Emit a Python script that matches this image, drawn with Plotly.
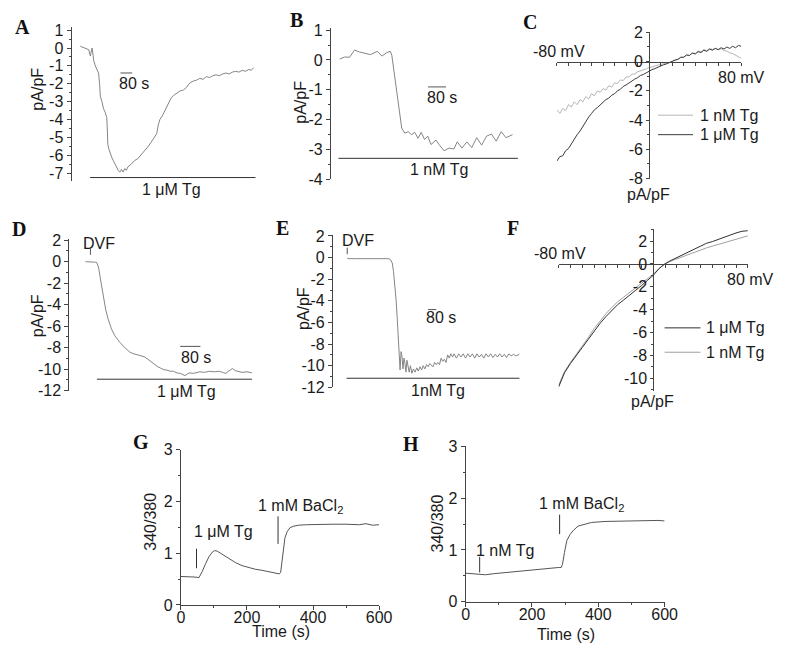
import plotly.graph_objects as go

W, H = 799, 662

# ---------------- data ----------------
# Panel A : 1 uM Tg, time (s) vs current density (pA/pF)
a_t = [0, 13, 36, 47, 58, 64, 69, 76, 80, 87, 91, 102, 113, 124, 131, 136, 147, 158, 169, 180, 184, 187,
       196, 202, 213, 224, 236, 247, 258, 269, 280, 291, 302, 313, 324, 347, 369, 391, 413, 436, 458, 480,
       502, 520, 531, 542, 558, 569, 591, 602, 618, 636, 658, 680, 702, 724, 736, 747, 769, 791, 813, 836,
       858, 880, 902, 924, 947, 969, 991, 1013, 1036, 1058, 1080, 1102, 1124, 1147, 1164, 1180]
a_i = [0.1, 0.05, 0.0, -0.05, -0.1, -0.35, -0.45, -0.1, 0.0, -0.4, -0.7, -1.0, -1.2, -1.4, -2.0, -2.7, -3.0,
       -3.4, -3.6, -3.9, -4.6, -5.4, -5.7, -5.9, -6.1, -6.3, -6.5, -6.7, -6.85, -6.95, -6.8, -6.95, -6.75,
       -6.85, -6.65, -6.5, -6.3, -6.2, -6.0, -5.75, -5.55, -5.3, -5.0, -4.8, -4.3, -4.0, -3.8, -3.6, -3.3,
       -3.0, -2.8, -2.65, -2.5, -2.4, -2.35, -2.2, -2.05, -1.95, -1.85, -1.8, -1.7, -1.75, -1.6, -1.65, -1.55,
       -1.5, -1.55, -1.45, -1.4, -1.45, -1.35, -1.3, -1.35, -1.25, -1.3, -1.2, -1.25, -1.1]

# Panel B : 1 nM Tg
b_t = [0, 22, 44, 66, 87, 109, 138, 168, 189, 211, 226, 233, 248, 262, 277, 291, 306, 321, 335, 350, 364,
       379, 393, 408, 430, 444, 466, 488, 510, 525, 546, 568, 590, 612, 634, 656, 678, 699, 721, 743, 772]
b_i = [0.03, 0.1, 0.09, 0.33, 0.27, 0.22, 0.18, 0.29, 0.13, 0.25, 0.29, 0.15, -0.65, -1.52, -2.28, -2.45,
       -2.4, -2.5, -2.42, -2.62, -2.42, -2.66, -2.55, -2.83, -2.68, -2.83, -3.04, -2.95, -2.98, -2.74, -2.95,
       -2.74, -2.93, -2.6, -2.85, -2.55, -2.48, -2.72, -2.4, -2.6, -2.5]

# Panel C : I-V curves (mV vs pA/pF)
c_mv = [-80, -77.5, -75, -72.5, -70, -67.5, -65, -62.5, -60, -57.5, -55, -52.5, -50, -47.5, -45, -42.5,
        -40, -37.5, -35, -32.5, -30, -27.5, -25, -22.5, -20, -17.5, -15, -12.5, -10, -7.5, -5, -2.5, 0,
        2.5, 5, 7.5, 10, 12.5, 15, 17.5, 20, 22.5, 25, 27.5, 30, 32.5, 35, 37.5, 40, 42.5, 45, 47.5, 50,
        52.5, 55, 57.5, 60, 62.5, 65, 67.5, 70, 72.5, 75, 77.5, 80]
c_nm = [-3.3, -3.55, -3.2, -3.35, -2.95, -3.1, -2.75, -2.95, -2.6, -2.75, -2.4, -2.55, -2.2, -2.35, -2.0,
        -2.1, -1.85, -1.95, -1.65, -1.75, -1.45, -1.5, -1.25, -1.3, -1.05, -1.05, -0.85, -0.85, -0.7, -0.65,
        -0.55, -0.5, -0.4, -0.38, -0.3, -0.25, -0.2, -0.12, -0.1, 0.0, 0.0, 0.12, 0.15, 0.28, 0.3, 0.45,
        0.42, 0.6, 0.55, 0.72, 0.65, 0.82, 0.75, 0.9, 0.82, 0.92, 0.8, 0.88, 0.75, 0.72, 0.6, 0.55, 0.42,
        0.35, 0.22]
c_um = [-6.8, -6.5, -6.45, -6.1, -5.95, -5.6, -5.35, -5.0, -4.75, -4.4, -4.15, -3.8, -3.55, -3.3, -3.15,
        -2.95, -2.8, -2.6, -2.5, -2.3, -2.2, -2.0, -1.9, -1.7, -1.6, -1.45, -1.35, -1.2, -1.1, -0.95, -0.88,
        -0.75, -0.68, -0.55, -0.48, -0.38, -0.32, -0.22, -0.16, -0.06, 0.0, 0.1, 0.15, 0.3, 0.3, 0.45, 0.42,
        0.58, 0.52, 0.68, 0.62, 0.78, 0.7, 0.85, 0.78, 0.9, 0.82, 0.95, 0.86, 1.0, 0.9, 1.05, 0.95, 1.1, 1.05]

# Panel D : DVF, 1 uM Tg
d_t = [0, 13, 26, 39, 45, 52, 58, 64, 71, 80, 90, 103, 116, 135, 155, 174, 187, 200, 219, 232, 245, 258,
       270, 283, 296, 309, 322, 335, 348, 361, 374, 386, 393, 402, 412, 425, 438, 451, 470, 489, 509, 528,
       541, 554, 564, 573, 580, 592, 605, 618, 638, 657]
d_i = [0, 0.0, 0.0, -0.05, -0.1, -0.6, -1.5, -2.4, -3.3, -4.5, -5.4, -6.3, -6.9, -7.5, -8.0, -8.4, -8.55,
       -8.65, -8.75, -8.85, -9.05, -9.3, -9.5, -9.75, -9.9, -10.05, -10.1, -10.2, -10.2, -10.35, -10.4,
       -10.5, -10.6, -10.45, -10.35, -10.4, -10.3, -10.25, -10.3, -10.2, -10.25, -10.2, -10.3, -10.4, -10.2,
       -10.05, -9.95, -10.15, -10.2, -10.3, -10.25, -10.35]

# Panel E : DVF, 1 nM Tg
e_t = [0, 27, 93, 193, 293, 393, 426, 443, 460, 473, 486, 500, 510, 520, 526, 533, 540, 550, 560, 570, 580,
       590, 600, 610, 620, 633, 646, 660, 676, 693, 710, 726, 743, 760, 776, 793, 810, 826, 843, 859, 876,
       893, 909, 926, 943, 959, 976, 992, 1009, 1026, 1042, 1059, 1076, 1092, 1115, 1139, 1162, 1185, 1209,
       1232, 1255, 1279, 1302, 1325, 1349, 1372, 1395, 1419, 1442, 1465, 1489, 1512, 1535, 1558, 1582, 1605,
       1628, 1652, 1675, 1698, 1725, 1758]
e_i = [-0.06, -0.1, -0.1, -0.12, -0.12, -0.12, -0.1, -0.2, -0.5, -1.3, -2.5, -4.0, -5.5, -7.0, -7.9, -9.0,
       -10.4, -8.7, -9.2, -10.3, -9.3, -9.8, -10.6, -9.5, -10.2, -10.6, -10.0, -10.7, -10.3, -10.6, -10.2,
       -10.5, -10.1, -10.4, -10.0, -10.3, -9.9, -10.1, -9.8, -10.0, -10.1, -9.7, -9.9, -9.7, -9.9, -9.3,
       -9.6, -9.4, -9.7, -9.0, -9.3, -8.9, -9.2, -8.9, -9.3, -8.9, -9.2, -8.9, -9.3, -8.9, -9.2, -8.9, -9.3,
       -8.9, -9.2, -8.95, -9.3, -8.9, -9.2, -8.9, -9.25, -8.95, -9.2, -8.9, -9.2, -8.95, -9.25, -8.9, -9.1,
       -8.95, -9.1, -8.95]

# Panel F : I-V curves with DVF
f_mv = [-80, -75, -70, -65, -60, -55, -50, -45, -40, -35, -30, -25, -20, -15, -10, -5, 0, 5, 10, 15, 20,
        25, 30, 35, 40, 45, 50, 55, 60, 65, 70, 75, 80]
f_um = [-10.75, -9.5, -8.7, -7.95, -7.3, -6.6, -5.85, -5.2, -4.6, -4.05, -3.55, -3.15, -2.75, -2.3, -1.9,
        -1.45, -1.0, -0.4, 0.02, 0.3, 0.55, 0.8, 1.1, 1.35, 1.6, 1.8, 1.95, 2.15, 2.35, 2.55, 2.7, 2.85, 2.9]
f_nm = [-10.6, -9.4, -8.6, -7.9, -7.2, -6.45, -5.65, -4.95, -4.35, -3.8, -3.3, -2.9, -2.5, -2.1, -1.7,
        -1.3, -0.9, -0.4, 0.0, 0.25, 0.45, 0.65, 0.85, 1.05, 1.25, 1.4, 1.55, 1.7, 1.85, 2.0, 2.15, 2.3, 2.45]

# Panel G : fura-2 ratio, 1 uM Tg then BaCl2
g_t = [0, 20, 40, 55, 57, 65, 75, 85, 95, 102, 110, 125, 145, 165, 185, 205, 225, 245, 265, 285, 298, 302,
       306, 310, 315, 322, 330, 340, 355, 380, 420, 460, 500, 540, 560, 580, 600]
g_r = [0.55, 0.55, 0.54, 0.53, 0.55, 0.65, 0.8, 0.93, 1.02, 1.05, 1.04, 0.98, 0.89, 0.82, 0.76, 0.72, 0.69,
       0.67, 0.64, 0.62, 0.6, 0.63, 0.85, 1.1, 1.3, 1.42, 1.49, 1.52, 1.54, 1.55, 1.56, 1.56, 1.56, 1.55,
       1.57, 1.54, 1.55]

# Panel H : fura-2 ratio, 1 nM Tg then BaCl2
h_t = [0, 20, 44, 60, 84, 130, 182, 230, 280, 288, 292, 298, 305, 315, 325, 339, 360, 379, 420, 477, 540,
       580, 600]
h_r = [0.55, 0.54, 0.52, 0.52, 0.54, 0.57, 0.61, 0.64, 0.66, 0.66, 0.72, 0.95, 1.18, 1.3, 1.38, 1.46, 1.5,
       1.53, 1.55, 1.56, 1.57, 1.57, 1.56]

time_ticks = [0, 200, 400, 600]
ratio_ticks = [0, 1, 2, 3]

# ---------------- helpers ----------------
def px(x):
    return x / W


def py(y):
    return 1 - y / H


FONT = "Liberation Sans, Arial, sans-serif"
SERIF = "Liberation Serif, Times New Roman, serif"
AX = "#444444"
TXT = "#1a1a1a"
TF = dict(family=FONT, size=16, color=TXT)
TXS = 16


def lab(v):
    return f"{v:g}"


def yax(top, bot, rng, ticks, minor_dt, anchor, **kw):
    d = dict(domain=[py(bot), py(top)], range=rng, showline=True, linecolor=AX, linewidth=1,
             ticks="outside", ticklen=4, tickcolor=AX, tickwidth=1,
             tickmode="array", tickvals=ticks, ticktext=[lab(v) for v in ticks], tickfont=TF,
             minor=dict(ticks="outside", ticklen=2, tickcolor=AX, tickmode="linear", tick0=0, dtick=minor_dt),
             showgrid=False, zeroline=False, anchor=anchor, fixedrange=True)
    d.update(kw)
    return d


def xhidden(left, right, rng, anchor):
    return dict(domain=[px(left), px(right)], range=rng, visible=False, anchor=anchor, fixedrange=True)


lay = dict(width=W, height=H, margin=dict(l=0, r=0, t=0, b=0), paper_bgcolor="white",
           plot_bgcolor="white", showlegend=False, font=dict(family=FONT, color=TXT))

# A
lay["xaxis"] = xhidden(69, 260, [-60, 1213], "y")
lay["yaxis"] = yax(20, 178, [-7.47, 1.15], list(range(-7, 2)), 0.5, "x")
# B
lay["xaxis2"] = xhidden(334, 527, [-39.3, 804.4], "y2")
lay["yaxis2"] = yax(20.7, 176, [-4, 1.065], list(range(-4, 2)), 0.5, "x2")
# D
lay["xaxis4"] = xhidden(66.7, 256, [-64.2, 667.5], "y4")
lay["yaxis4"] = yax(236.7, 392.7, [-12, 2.145], list(range(-12, 3, 2)), 1, "x4")
# E
lay["xaxis5"] = xhidden(336, 528, [-147, 1773], "y5")
lay["yaxis5"] = yax(233, 389.3, [-12, 2.09], list(range(-12, 3, 2)), 1, "x5")


# C and F (crossing axes)
def iv_axes(xl, xr, yt, yb, yrng, yticks, xzero_py):
    xa = dict(domain=[px(xl), px(xr)], range=[-80, 80], showline=True, linecolor=AX, linewidth=1,
              ticks="outside", ticklen=3, tickcolor=AX, tickmode="linear", tick0=0, dtick=10,
              showticklabels=False, showgrid=False, zeroline=False, anchor="free", position=py(xzero_py),
              fixedrange=True)
    xzero_px = (xl + xr) / 2
    ya = yax(yt, yb, yrng, yticks, 1, "free", position=px(xzero_px))
    ya["ticklen"] = 3
    return xa, ya


lay["xaxis3"], lay["yaxis3"] = iv_axes(565, 753.3, 25, 175, [-8, 2], list(range(-8, 3, 2)), 55)
lay["xaxis6"], lay["yaxis6"] = iv_axes(566.7, 760, 226.7, 392.7, [-11.07, 3.06], list(range(-10, 3, 2)), 262.7)

# G and H
for n, (xl, xr, yt, yb) in {7: (180.7, 383.3, 453.3, 612.7), 8: (471.7, 675, 450, 609.3)}.items():
    lay[f"xaxis{n}"] = dict(domain=[px(xl), px(xr)], range=[0, 600], showline=True, linecolor=AX,
                           linewidth=1, ticks="outside", ticklen=4, tickcolor=AX, tickmode="array",
                           tickvals=time_ticks, ticktext=[lab(v) for v in time_ticks], tickfont=TF,
                           ticklabelstandoff=-6,
                           minor=dict(ticks="outside", ticklen=2, tickcolor=AX, tickmode="linear",
                                      tick0=0, dtick=100),
                           showgrid=False, zeroline=False, anchor=f"y{n}", fixedrange=True)
    lay[f"yaxis{n}"] = yax(yt, yb, [0, 3], ratio_ticks, 0.5, f"x{n}")

fig = go.Figure(layout=lay)


def add(x, y, n, color, width=1.0):
    fig.add_trace(go.Scatter(x=x, y=y, mode="lines", line=dict(color=color, width=width),
                             xaxis="x" if n == 1 else f"x{n}", yaxis="y" if n == 1 else f"y{n}",
                             hoverinfo="skip"))


GRAY = "#858585"
add(a_t, a_i, 1, GRAY)
add(b_t, b_i, 2, GRAY)
add(c_mv, c_nm, 3, "#b4b4b4")
add(c_mv, c_um, 3, "#3c3c3c")
add(d_t, d_i, 4, GRAY)
add(e_t, e_i, 5, GRAY)
add(f_mv, f_nm, 6, "#a0a0a0")
add(f_mv, f_um, 6, "#303030")
add(g_t, g_r, 7, "#555555")
add(h_t, h_r, 8, "#555555")


# ---------------- decorations (paper px) ----------------
def hline(x0, x1, y, color="#333333", w=1.0):
    fig.add_shape(type="line", xref="paper", yref="paper", x0=px(x0), x1=px(x1), y0=py(y), y1=py(y),
                  line=dict(color=color, width=w))


def vline(x, y0, y1, color="#333333", w=1.0):
    fig.add_shape(type="line", xref="paper", yref="paper", x0=px(x), x1=px(x), y0=py(y0), y1=py(y1),
                  line=dict(color=color, width=w))


def text(t, x, y, size=TXS, family=FONT, angle=0, xanchor="center", color=TXT):
    fig.add_annotation(text=t, x=px(x), y=py(y), xref="paper", yref="paper", showarrow=False,
                       font=dict(family=family, size=size, color=color), textangle=angle,
                       xanchor=xanchor, yanchor="middle")


# drug application bars
hline(88, 257, 174)
hline(341.7, 525, 154.3)
hline(95, 253.3, 381)
hline(350, 526.7, 380)
# scale bars
hline(119, 131, 66.7, "#555555")
hline(433.3, 451.7, 81, "#555555")
hline(180, 200.7, 347.3, "#555555")
hline(433.3, 441.7, 309.5, "#555555")
# DVF markers
vline(88.3, 246.7, 253.3, "#555555")
vline(350.7, 246, 252.7, "#555555")
# G/H markers
vline(196.7, 555, 575)
vline(280, 521.7, 550)
vline(486, 563.3, 579.3)
vline(567.7, 520, 540)
# legends C/F
hline(668.3, 704, 110, "#b4b4b4")
hline(668.3, 704, 130, "#3c3c3c")
hline(675, 711.7, 328.3, "#303030")
hline(675, 711.7, 353.3, "#a0a0a0")

# panel letters
for L, x, y in [("A", 18.5, 19), ("B", 299, 12.5), ("C", 537.5, 14), ("D", 15.5, 226.5),
                ("E", 284.5, 226), ("F", 520, 226), ("G", 140, 445.5), ("H", 416, 447.5)]:
    text(f"<b>{L}</b>", x, y, size=20, family=SERIF, color="#111111")

# axis titles
text("pA/pF", 34, 83.5, angle=-90)
text("pA/pF", 303, 96.7, angle=-90)
text("pA/pF", 35, 316, angle=-90)
text("pA/pF", 305.5, 309, angle=-90)
text("340/380", 150, 527.5, angle=-90)
text("340/380", 442.5, 529, angle=-90)
text("Time (s)", 283.3, 640, size=16)
text("Time (s)", 574, 643, size=16)
text("pA/pF", 658.5, 191.5)
text("pA/pF", 663, 404)
text("-80 mV", 567.5, 45)
text("80 mV", 754, 71.5)
text("-80 mV", 568.3, 251.7)
text("80 mV", 762.5, 279)

# panel texts
text("80 s", 132.5, 78)
text("1 μM Tg", 171, 186)
text("80 s", 448, 92)
text("1 nM Tg", 444, 166)
text("DVF", 96.7, 241.7)
text("80 s", 196.5, 358.3)
text("1 μM Tg", 186.7, 393.3)
text("DVF", 362, 239)
text("80 s", 447, 317.5)
text("1nM Tg", 443.3, 392.5)
text("1 nM Tg", 709.3, 110, xanchor="left")
text("1 μM Tg", 709.3, 130, xanchor="left")
text("1 μM Tg", 715, 328.3, xanchor="left")
text("1 nM Tg", 715, 353.3, xanchor="left")
text("1 μM Tg", 224, 537.3)
text("1 mM BaCl<sub>2</sub>", 303.3, 512)
text("1 nM Tg", 511.7, 556.7)
text("1 mM BaCl<sub>2</sub>", 590, 510)

fig.write_html("out.html", config={"displayModeBar": False, "staticPlot": True})

# remove the default page margin so the 799x662 figure fills the window exactly
with open("out.html", "r", encoding="utf-8") as fh:
    page = fh.read()
page = page.replace("<head>", "<head><style>html,body{margin:0;padding:0;overflow:hidden;}</style>", 1)
with open("out.html", "w", encoding="utf-8") as fh:
    fh.write(page)
